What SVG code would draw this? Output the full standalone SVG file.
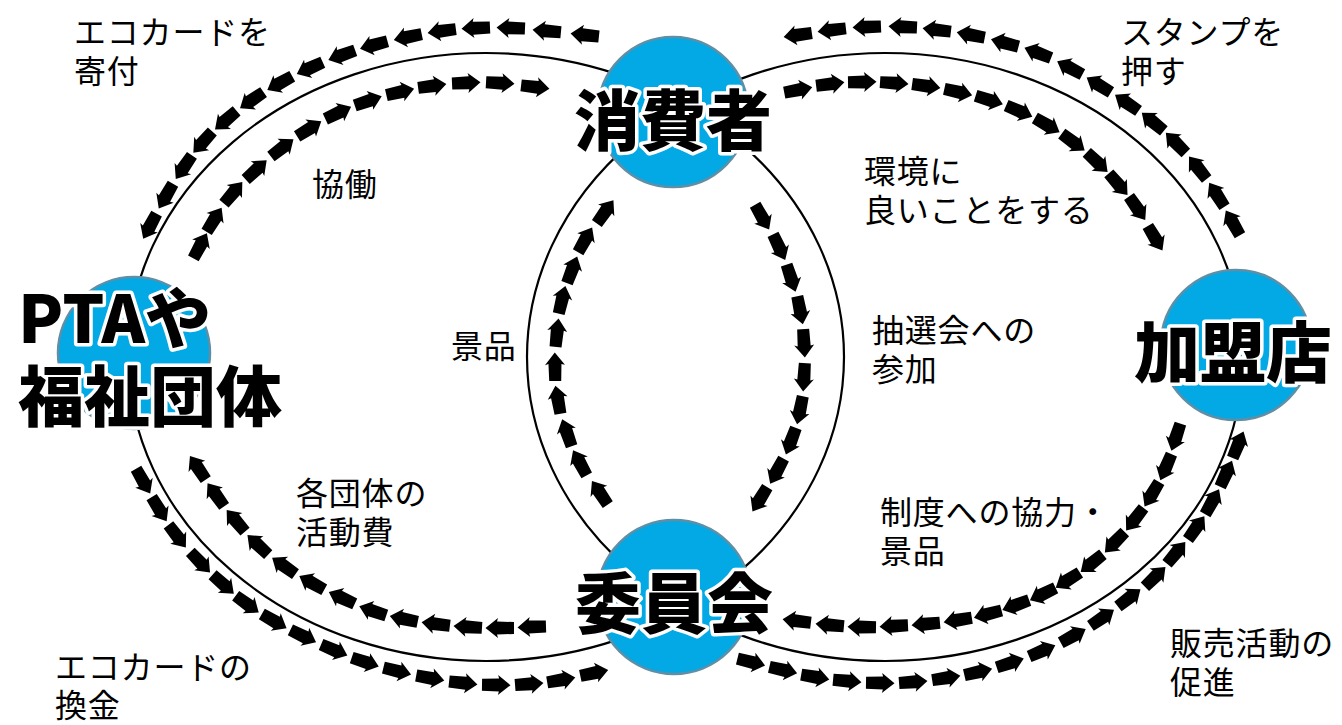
<svg xmlns="http://www.w3.org/2000/svg" width="1342" height="725" viewBox="0 0 1342 725">
<defs>
<style>
.ring{fill:none;stroke:#000;stroke-width:2.2}
.node circle{fill:#02A9E4;stroke:#5F8FA6;stroke-width:2.5}
.node text{font-family:"Noto Sans CJK JP","Noto Sans",sans-serif;font-weight:900;font-size:66px;fill:#000;stroke:#fff;stroke-width:7;paint-order:stroke;stroke-linejoin:round}
.chain{fill:none;stroke:none;marker-start:url(#ar);marker-mid:url(#ar);marker-end:url(#ar)}
.lbl{font-family:"Noto Sans CJK JP","Noto Sans",sans-serif;font-size:32px;letter-spacing:0.8px;fill:#000}
</style>
<marker id="ar" viewBox="-16 -11 32 22" markerWidth="32" markerHeight="22" markerUnits="userSpaceOnUse" orient="auto" refX="0" refY="0" overflow="visible">
<path d="M-14,-6 L3,-6.5 L2,-10 L14.5,0 L2,10 L3,6.5 L-14,6 Z" fill="#000"/>
</marker>
</defs>
<rect width="1342" height="725" fill="#fff"/>
<g id="connectors">
<ellipse class="ring" cx="486" cy="357" rx="358" ry="304"/>
<ellipse class="ring" cx="885" cy="357" rx="358" ry="304"/>
<polyline class="chain" points="585,35 547,31 511,28 476,28 442,31 408,37 374,45 342,55 310,68 280,83 252,100 226,120 203,142 184,167 166,196 150,226"/>
<polyline class="chain" points="200,246 214,220 233,193 256,170 282,148 309,129 338,113 368,101 400,92 432,86 466,83 500,83 535,87"/>
<polyline class="chain" points="1233,223 1217,195 1198,168 1176,143 1153,122 1127,103 1099,85 1070,68 1038,53 1005,43 971,35 937,30 903,27 867,27 832,30 798,35"/>
<polyline class="chain" points="798,90 830,84 862,82 894,83 926,86 958,92 989,100 1019,111 1047,125 1073,142 1097,162 1118,184 1137,208 1155,238"/>
<polyline class="chain" points="600,493 580,463 567,433 558,400 555,367 557,333 562,300 572,270 585,240 605,212"/>
<polyline class="chain" points="762,217 779,247 791,278 800,310 804,343 804,377 800,410 791,441 777,471 760,499"/>
<polyline class="chain" points="532,627 500,628 468,627 436,624 404,619 373,611 342,598 312,583 284,566 258,545 236,521 216,495 198,468"/>
<polyline class="chain" points="143,481 159,509 177,536 200,562 223,584 247,604 274,621 303,636 334,650 365,662 397,671 430,678 463,683 496,685 529,684 561,680 594,673"/>
<polyline class="chain" points="1176,437 1166,467 1152,494 1135,519 1115,542 1092,563 1068,580 1043,594 1016,605 988,614 958,620 926,624 894,626 862,627 830,625 797,621"/>
<polyline class="chain" points="751,662 783,670 815,677 847,681 880,683 913,682 946,678 978,672 1010,663 1042,651 1073,636 1102,618 1129,598 1155,577 1176,553 1196,528 1212,502 1226,474 1238,445"/>
</g>
<g id="node-consumer" class="node">
<circle cx="673" cy="112" r="75"/>
<text x="673" y="145" text-anchor="middle">消費者</text>
</g>
<g id="node-pta" class="node">
<circle cx="134" cy="353" r="76"/>
<text x="18" y="343">PTAや<tspan x="18" dy="78">福祉団体</tspan></text>
</g>
<g id="node-shop" class="node">
<circle cx="1236" cy="345" r="75"/>
<text x="1233" y="377" text-anchor="middle">加盟店</text>
</g>
<g id="node-committee" class="node">
<circle cx="674" cy="597" r="77"/>
<text x="674" y="628" text-anchor="middle">委員会</text>
</g>
<g id="labels" class="lbl">
<text x="74" y="44">エコカードを<tspan x="74" dy="39">寄付</tspan></text>
<text x="312" y="196">協働</text>
<text x="1121" y="44">スタンプを<tspan x="1121" dy="39">押す</tspan></text>
<text x="864" y="183">環境に<tspan x="864" dy="39">良いことをする</tspan></text>
<text x="451" y="358">景品</text>
<text x="872" y="342">抽選会への<tspan x="872" dy="39">参加</tspan></text>
<text x="296" y="505">各団体の<tspan x="296" dy="39">活動費</tspan></text>
<text x="880" y="524">制度への協力・<tspan x="880" dy="39">景品</tspan></text>
<text x="55" y="679">エコカードの<tspan x="55" dy="38">換金</tspan></text>
<text x="1170" y="655">販売活動の<tspan x="1170" dy="39">促進</tspan></text>
</g>
</svg>
